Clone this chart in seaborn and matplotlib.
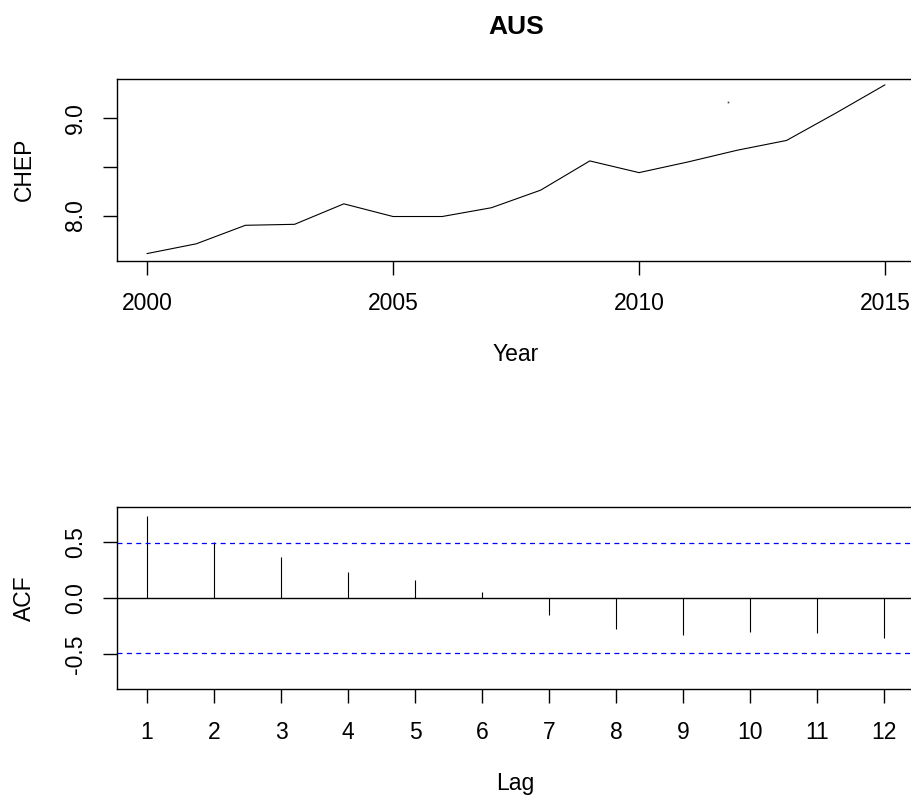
import numpy as np
import pandas as pd
import matplotlib
matplotlib.use("Agg")
import matplotlib.pyplot as plt
import seaborn as sns

# --------------------------------------------
# data
# --------------------------------------------
years = [2000, 2001, 2002, 2003, 2004, 2005, 2006, 2007,
         2008, 2009, 2010, 2011, 2012, 2013, 2014, 2015]
chep = [7.61, 7.71, 7.90, 7.91, 8.12, 7.99, 7.99, 8.08,
        8.26, 8.56, 8.44, 8.55, 8.67, 8.77, 9.05, 9.34]

# the lone speck above the line in the top panel
speck_year = [2011.81]
speck_value = [9.16]

lags = [1, 2, 3, 4, 5, 6, 7, 8, 9, 10, 11, 12]
acf = [0.73, 0.505, 0.365, 0.235, 0.163, 0.054,
       -0.146, -0.277, -0.328, -0.298, -0.307, -0.357]
conf_limit = 0.49

year_ticks = [2000, 2005, 2010, 2015]
chep_ticks = [8.0, 8.5, 9.0]
chep_tick_labels = ["8.0", "", "9.0"]
acf_ticks = [-0.5, 0.0, 0.5]
acf_tick_labels = ["-0.5", "0.0", "0.5"]

df_series = pd.DataFrame({"Year": years, "CHEP": chep})
df_acf = pd.DataFrame({"Lag": lags, "ACF": acf})

# --------------------------------------------
# style
# --------------------------------------------
sns.set_style("white")
plt.rcParams['font.family'] = ['Liberation Sans', 'DejaVu Sans']
plt.rcParams['axes.linewidth'] = 1.0
plt.rcParams['text.color'] = 'black'
plt.rcParams['axes.labelcolor'] = 'black'
plt.rcParams['xtick.color'] = 'black'
plt.rcParams['ytick.color'] = 'black'

W, H = 912, 799
fig = plt.figure(figsize=(W / 100, H / 100), dpi=100)

def px_axes(left, top, right, bottom):
    return fig.add_axes([left / W, 1 - bottom / H, (right - left) / W, (bottom - top) / H])

ax1 = px_axes(117.5, 78.5, 914.5, 260.5)
ax2 = px_axes(117.5, 507.3, 913.5, 689.0)

FS = 16.5

def r_style(ax):
    for s in ax.spines.values():
        s.set_color("black")
        s.set_linewidth(1.0)
    ax.tick_params(axis="both", direction="out", length=10, width=1.0,
                   color="black", labelcolor="black", labelsize=FS,
                   bottom=True, left=True)
    ax.tick_params(axis="x", pad=13)
    ax.tick_params(axis="y", pad=12)
    for lab in ax.get_yticklabels():
        lab.set_rotation(90)
        lab.set_va("center")

# --------------------------------------------
# top panel: time series
# --------------------------------------------
sns.lineplot(data=df_series, x="Year", y="CHEP", ax=ax1, color="black",
             linewidth=0.8)
ax1.plot(speck_year, speck_value, marker="s", markersize=1.2,
         markeredgewidth=0, color="#444444", linestyle="none")
ax1.set_xlim(1999.4, 2015.6)
ax1.set_ylim(7.539, 9.405)
ax1.set_xticks(year_ticks)
ax1.set_xticklabels([str(y) for y in year_ticks])
ax1.set_yticks(chep_ticks)
ax1.set_yticklabels(chep_tick_labels)
r_style(ax1)
ax1.set_xlabel("Year", fontsize=FS, color="black")
ax1.set_ylabel("CHEP", fontsize=FS, color="black")
ax1.xaxis.set_label_coords(0.5, -0.455)
ax1.yaxis.set_label_coords(-0.103, 0.5)
ax1.set_title("AUS", fontsize=19, fontweight="bold", pad=32, color="black")

# --------------------------------------------
# bottom panel: ACF
# --------------------------------------------
ax2.vlines(df_acf["Lag"], 0, df_acf["ACF"], color="black", linewidth=0.8)
ax2.axhline(0, color="black", linewidth=1.0)
for c in (conf_limit, -conf_limit):
    ax2.axhline(c, color="#0000ff", linewidth=0.9, linestyle=(0, (4, 3.5)))
ax2.set_xlim(0.56, 12.44)
ax2.set_ylim(-0.81, 0.81)
ax2.set_xticks(lags)
ax2.set_xticklabels([str(l) for l in lags])
ax2.set_yticks(acf_ticks)
ax2.set_yticklabels(acf_tick_labels)
r_style(ax2)
ax2.set_xlabel("Lag", fontsize=FS, color="black")
ax2.set_ylabel("ACF", fontsize=FS, color="black")
ax2.xaxis.set_label_coords(0.5, -0.455)
ax2.yaxis.set_label_coords(-0.103, 0.5)

fig.savefig("out.png", dpi=100, facecolor="white")
